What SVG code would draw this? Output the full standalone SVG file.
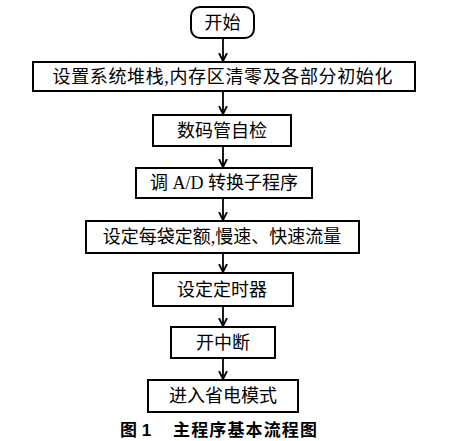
<svg xmlns="http://www.w3.org/2000/svg" width="451" height="441" viewBox="0 0 451 441">
<style>
.box{fill:#fff;stroke:#000;stroke-width:2}
.t{font-family:"Liberation Serif","Noto Sans CJK SC",serif;font-size:18px;fill:#000;text-anchor:middle}
.cap{font-family:"Liberation Sans","Noto Sans CJK SC",sans-serif;font-size:17px;font-weight:bold;fill:#000}
.ln{stroke:#000;stroke-width:1.8;fill:none}
</style>
<defs>
<marker id="ah" markerWidth="10" markerHeight="10" refX="8" refY="5" orient="auto" markerUnits="userSpaceOnUse">
<path d="M0,1 L8,5 L0,9" fill="none" stroke="#000" stroke-width="1.8"/>
</marker>
</defs>
<rect width="451" height="441" fill="#fff"/>
<g id="connectors">
<line class="ln" x1="223" y1="38" x2="223" y2="61" marker-end="url(#ah)"/>
<line class="ln" x1="223" y1="91" x2="223" y2="114" marker-end="url(#ah)"/>
<line class="ln" x1="223" y1="146" x2="223" y2="167" marker-end="url(#ah)"/>
<line class="ln" x1="223" y1="198" x2="223" y2="220" marker-end="url(#ah)"/>
<line class="ln" x1="223" y1="253" x2="223" y2="272" marker-end="url(#ah)"/>
<line class="ln" x1="223" y1="306" x2="223" y2="326" marker-end="url(#ah)"/>
<line class="ln" x1="223" y1="358" x2="223" y2="379" marker-end="url(#ah)"/>
</g>
<g id="start">
<rect class="box" x="191" y="7" width="63" height="31" rx="9"/>
<text class="t" x="222.5" y="29">开始</text>
</g>
<g id="init">
<rect class="box" x="33" y="62" width="382" height="29"/>
<text class="t" x="222.5" y="83" textLength="340" lengthAdjust="spacing">设置系统堆栈,内存区清零及各部分初始化</text>
</g>
<g id="selftest">
<rect class="box" x="153" y="115" width="138" height="31"/>
<text class="t" x="222" y="137">数码管自检</text>
</g>
<g id="adc">
<rect class="box" x="136" y="168" width="176" height="30"/>
<text class="t" x="224" y="189">调 A/D 转换子程序</text>
</g>
<g id="quota">
<rect class="box" x="86" y="221" width="273" height="32"/>
<text class="t" x="222" y="243">设定每袋定额,慢速、快速流量</text>
</g>
<g id="timer">
<rect class="box" x="153" y="273" width="140" height="33"/>
<text class="t" x="222" y="296">设定定时器</text>
</g>
<g id="interrupt">
<rect class="box" x="171" y="327" width="104" height="31"/>
<text class="t" x="223" y="349">开中断</text>
</g>
<g id="sleep">
<rect class="box" x="148" y="380" width="150" height="32"/>
<text class="t" x="223" y="402">进入省电模式</text>
</g>
<g id="caption">
<text class="cap" x="120" y="436">图 1</text>
<text class="cap" x="173" y="436" textLength="144" lengthAdjust="spacing">主程序基本流程图</text>
</g>
</svg>
